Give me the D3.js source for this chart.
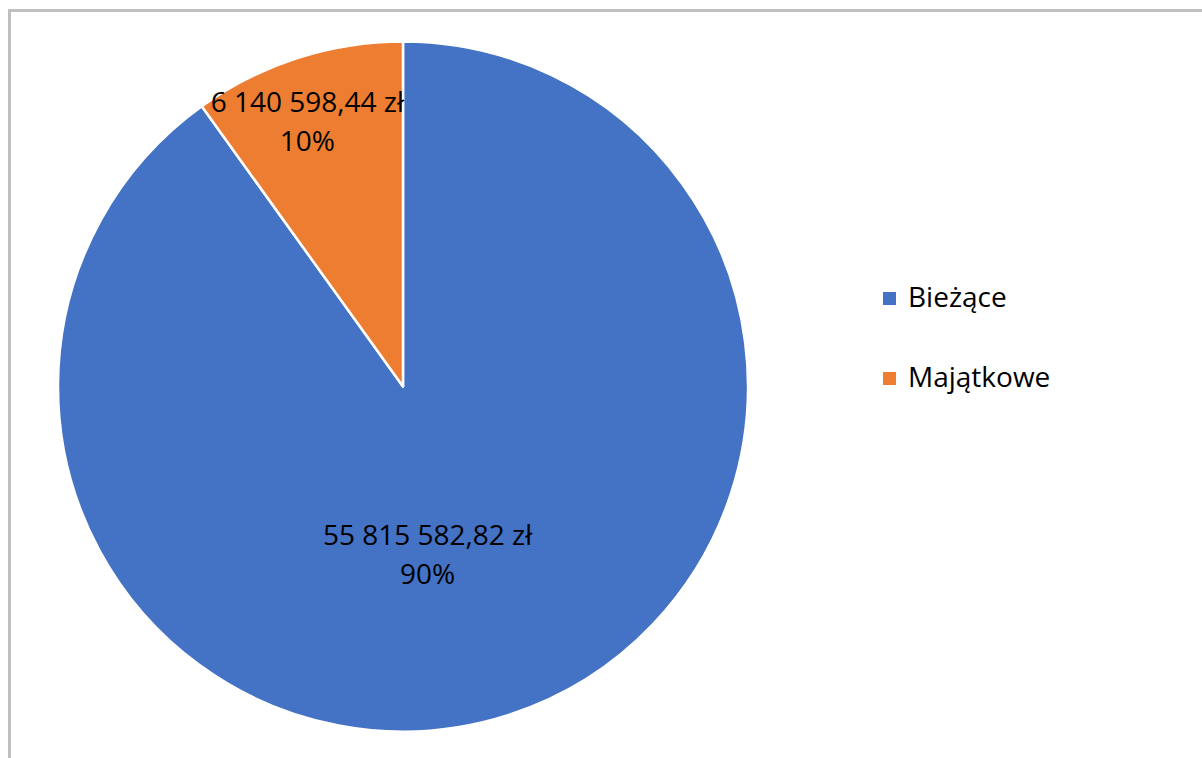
<!DOCTYPE html>
<html>
<head>
<meta charset="utf-8">
<script src="https://cdn.jsdelivr.net/npm/d3@7"></script>
<style>
  html, body { margin: 0; padding: 0; background: #ffffff; }
  svg { display: block; font-family: "Open Sans", "Noto Sans", sans-serif; }
</style>
</head>
<body>
<svg id="chart" width="1202" height="758"></svg>
<script>
// ---- data ----
const categories = ["Bieżące", "Majątkowe"];
const values = [55815582.82, 6140598.44];
const colors = ["#4472C4", "#ED7D31"];

// ---- layout ----
const W = 1202, H = 758;
const cx = 403, cy = 386.5, R = 345;
const fontSize = 28;

const svg = d3.select("#chart");

// chart border (extends past right and bottom edges)
svg.append("rect")
  .attr("x", 9.5).attr("y", 10.5)
  .attr("width", W + 20).attr("height", H + 20)
  .attr("fill", "#ffffff")
  .attr("stroke", "#BFBFBF").attr("stroke-width", 3);

const total = d3.sum(values);
const pie = d3.pie().sort(null).value(d => d)(values);
const arc = d3.arc().innerRadius(0).outerRadius(R);

const g = svg.append("g").attr("transform", `translate(${cx},${cy})`);

g.selectAll("path.slice")
  .data(pie)
  .join("path")
  .attr("class", "slice")
  .attr("d", arc)
  .attr("fill", (d, i) => colors[i])
  .attr("stroke", "#ffffff")
  .attr("stroke-width", 2.5)
  .attr("stroke-linejoin", "round");

// label placement (radius fraction and angular nudge, radians)
const labelPlace = [
  { rf: 0.492, nudge: 0.166 },
  { rf: 0.817, nudge: -0.035 }
];

const fmtNum = v => {
  const [intPart, dec] = v.toFixed(2).split(".");
  return intPart.replace(/\B(?=(\d{3})+(?!\d))/g, " ") + "," + dec + " zł";
};

pie.forEach((d, i) => {
  const a = (d.startAngle + d.endAngle) / 2 + labelPlace[i].nudge;
  const r = R * labelPlace[i].rf;
  const x = r * Math.sin(a), y = -r * Math.cos(a);
  const t = g.append("text")
    .attr("text-anchor", "middle")
    .attr("font-size", fontSize)
    .attr("fill", "#000000");
  t.append("tspan").attr("x", x).attr("y", y - 9).text(fmtNum(values[i]));
  t.append("tspan").attr("x", x).attr("y", y + 30)
    .text(Math.round(values[i] / total * 100) + "%");
});

// legend
const legend = svg.append("g").attr("transform", "translate(883,299)");
const items = legend.selectAll("g")
  .data(categories)
  .join("g")
  .attr("transform", (d, i) => `translate(0,${i * 80})`);
items.append("rect")
  .attr("x", 0).attr("y", -7)
  .attr("width", 13).attr("height", 13)
  .attr("fill", (d, i) => colors[i]);
items.append("text")
  .attr("x", 25).attr("y", 8)
  .attr("font-size", fontSize)
  .attr("fill", "#000000")
  .text(d => d);
</script>
</body>
</html>
